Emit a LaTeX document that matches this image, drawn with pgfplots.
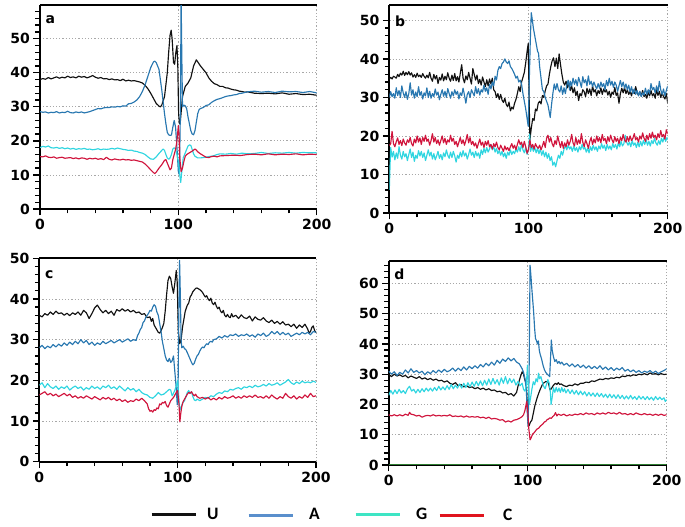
\documentclass[border=0pt]{standalone}
\usepackage{fontspec}
\setmainfont{DejaVu Sans}
\newfontfamily\legfont{Carlito}
\usepackage{pgfplots}
\pgfplotsset{compat=1.18}
\definecolor{cU}{HTML}{111111}
\definecolor{cA}{HTML}{2877B0}
\definecolor{cG}{HTML}{2FD5E0}
\definecolor{cC}{HTML}{D0143C}
\definecolor{lA}{HTML}{5A8FCC}
\definecolor{lG}{HTML}{3EE5C4}
\definecolor{lC}{HTML}{E0141E}
\definecolor{gridc}{HTML}{A8A8A8}
\definecolor{grn}{HTML}{2E7D32}
\pgfplotsset{
  panel/.style={
    scale only axis, xmin=0, xmax=200, ymin=0,
    axis x line*=box, axis y line*=left,
    x axis line style={line width=2.3pt, black},
    y axis line style={line width=2.3pt, black},
    xtick={0,100,200}, minor x tick num=4,
    ytick distance=10, minor y tick num=4,
    tick align=outside, xtick pos=bottom, ytick pos=left,
    major tick length=6.5pt, minor tick length=4.5pt,
    every tick/.style={black, line width=1.3pt},
    grid=major,
    major grid style={gridc, dash pattern=on 1.2pt off 2pt, line width=0.8pt},
    /pgf/number format/assume math mode=true,
    tick label style={font=\bfseries\fontsize{14}{14}\selectfont},
    legend image code/.code={\draw[##1, line width=3pt] (0pt,0pt) -- (44pt,0pt);},
    legend style={draw=none, fill=none, anchor=west, inner sep=0pt,
      font=\legfont\bfseries\fontsize{17.5}{17.5}\selectfont},
  },
  dat/.style={forget plot, line width=1.15pt, mark=none, line join=round},
}
\begin{document}
\begin{tikzpicture}
\path[use as bounding box] (0pt,0pt) rectangle (685pt,527pt);
% ---------------- panel a ----------------
\begin{axis}[panel, at={(40pt,318pt)}, anchor=south west, width=276.7pt, height=204pt, ymax=59.9,
  legend style={at={(0.3975,-1.5)}, column sep=8pt}]
\addlegendimage{cU}\addlegendentry{U}
\addplot[dat, cU] coordinates {(0,38)(2,38.3)(4,38.1)(6,38.6)(8,38.2)(10,38.5)(12,38.8)(14,38.4)(16,38.7)(18,38.5)(20,39)(22,38.6)(24,38.8)(26,38.5)(28,39)(30,38.7)(32,38.9)(34,38.5)(36,38.8)(38,39.2)(40,38.7)(42,38.4)(44,38.6)(46,38.2)(48,38.3)(50,38)(52,38.2)(54,37.9)(56,38)(58,37.7)(60,38.1)(62,37.6)(64,37.8)(66,37.6)(68,37.7)(70,37.5)(72,37.3)(74,37)(76,36.3)(78,35.3)(80,34)(82,32.5)(84,31)(86,30.2)(87,30)(88,30.5)(90,33)(92,40)(93,46)(94,51)(94.8,52.5)(95.5,50)(96.5,43)(97.3,42.5)(98.2,46)(99,48)(99.6,42)(100.2,28)(100.8,25)(101.5,26)(103,33)(105,36)(107,37)(109,38.5)(111,42)(113,43.8)(114,43.2)(116,42)(118,41)(120,40)(122,38.5)(124,37.5)(126,36.8)(128,36.5)(130,36)(132,36)(134,35.6)(136,35.5)(138,35.2)(140,35)(142,34.9)(144,34.6)(146,34.5)(148,34.3)(150,34.4)(155,34)(160,33.9)(165,34)(170,33.8)(175,34.1)(180,33.7)(185,33.9)(190,33.6)(195,33.7)(200,33.4)};
\addplot[dat, cA] coordinates {(0,28.6)(2,28.4)(4,28.5)(6,28.2)(8,28.4)(10,28.3)(12,28.6)(14,28.2)(16,28.4)(18,28.3)(20,28.7)(22,28.3)(24,28.2)(26,28.5)(28,28.3)(30,28.5)(32,28.2)(34,28.4)(36,28.6)(38,28.9)(40,29.2)(42,29.5)(44,29.4)(46,29.7)(48,29.8)(50,29.8)(52,30)(54,29.9)(56,30.1)(58,30)(60,30.3)(62,30.2)(64,30.9)(66,31)(68,31.4)(70,32)(72,33)(74,34.5)(76,36.5)(78,39)(80,41.5)(82,43.2)(83,43.4)(84,43)(86,41)(88,35)(90,28)(91,25)(92,22.5)(93,21.8)(94,21.6)(95,21.7)(96,24)(97,26)(98,24)(99,18)(100,11)(100.8,10)(101.5,30)(102,62)(102.5,45)(103,30)(104,30.5)(105,30.3)(106,29.5)(107,27)(108,25)(109,23)(110,22)(111,21.8)(112,23)(113,25.5)(114,28)(115,29.2)(116,29.5)(118,29.8)(120,30.4)(122,30.6)(124,31.3)(126,31.8)(128,32.2)(130,32.4)(132,32.7)(134,33)(136,33.2)(138,33.3)(140,33.5)(142,33.6)(144,33.9)(146,34)(148,34.2)(150,34.4)(155,34.6)(160,34.3)(165,34.5)(170,34.2)(175,34.6)(180,34.4)(185,34.5)(190,34.2)(195,34.5)(200,34.1)};
\addplot[dat, cG] coordinates {(0,18)(2,18.4)(4,18.2)(6,18.5)(8,18)(10,17.9)(12,18.1)(14,17.8)(16,18)(18,17.7)(20,17.9)(22,17.6)(24,17.8)(26,17.5)(28,17.7)(30,17.6)(32,17.8)(34,17.5)(36,17.6)(38,17.4)(40,17.5)(42,17.7)(44,17.4)(46,17.6)(48,17.5)(50,17.6)(52,17.8)(54,17.6)(56,17.9)(58,17.7)(60,17.5)(62,17.4)(64,17.2)(66,17.3)(68,17)(70,16.9)(72,16.6)(74,16.4)(76,16)(78,15.3)(80,14.7)(82,14.6)(84,15.3)(86,16.3)(88,17.2)(89,17.6)(90,17.2)(91,16)(92,15)(93,14.6)(94,15)(95,16)(96,17.6)(97,18)(98,17.6)(99,16)(100,14)(101,10)(101.7,7.8)(102.5,11)(103.5,15)(105,16.5)(106,17.5)(107,18.5)(108,18.8)(109,18.7)(110,17.5)(111,16.2)(112,15.5)(114,15)(116,15)(118,15.1)(120,15.2)(122,15.4)(124,15.5)(126,15.7)(128,16)(130,16.2)(134,16.1)(138,16.3)(142,16.1)(146,16.4)(150,16.2)(155,16.3)(160,16.6)(165,16.3)(170,16.5)(175,16.4)(180,16.6)(185,16.4)(190,16.6)(195,16.5)(200,16.5)};
\addplot[dat, cC] coordinates {(0,15.4)(2,15.3)(4,15.6)(6,15.2)(8,15.1)(10,15.3)(12,14.9)(14,15.1)(16,15.2)(18,14.9)(20,15)(22,15.1)(24,14.8)(26,15)(28,14.7)(30,15)(32,14.9)(34,14.6)(36,14.9)(38,14.7)(40,14.9)(42,14.6)(44,14.8)(46,14.5)(48,15.2)(50,14.6)(52,14.4)(54,14.7)(56,14.5)(58,14.4)(60,14.6)(62,14.4)(64,14.5)(66,14.3)(68,14.4)(70,14.2)(72,14)(74,13.8)(76,13.2)(78,12.4)(80,11.5)(82,10.7)(83,10.4)(84,10.8)(86,12)(88,13)(90,14.3)(91,14.5)(92,13.5)(93,12.5)(94,11.5)(95,12)(96,14.5)(97,16)(98,17.5)(99,20)(100,24.5)(100.5,22)(101,15)(102,11)(103,12)(104,14)(105,15.5)(106,16)(108,16.5)(110,17)(112,17.6)(113,17.3)(114,16.8)(116,16.2)(118,15.7)(120,15.2)(122,15.1)(124,15.4)(126,15.5)(128,15.3)(130,15.6)(135,15.7)(140,15.8)(145,15.7)(150,16)(155,16.1)(160,15.9)(165,16.2)(170,15.9)(175,16.1)(180,16)(185,16.2)(190,15.9)(195,16.1)(200,16)};
\node[anchor=north west, font=\bfseries\fontsize{14}{14}\selectfont, inner sep=0pt] at (rel axis cs:0.02,0.95) {a};
\end{axis}
% ---------------- panel b ----------------
\begin{axis}[panel, at={(389.3pt,314pt)}, anchor=south west, width=278.4pt, height=208pt, ymax=54,
  legend style={at={(-0.511,-1.452)}, column sep=13pt}]
\addlegendimage{lA}\addlegendentry{A}
\addplot[dat, cU] coordinates {(0,34.8)(1,35.2)(2,34.8)(3,35.5)(4,35.3)(5,35)(6,36)(7,35.4)(8,36.3)(9,35.8)(10,36.8)(11,35.7)(12,36.5)(13,35.9)(14,36.7)(15,35.8)(16,36.4)(17,35.3)(18,35.9)(19,35.2)(20,36.3)(21,35.4)(22,35.8)(23,35.2)(24,36.2)(25,35.5)(26,35)(27,35.8)(28,35.1)(29,36.5)(30,35)(31,34.2)(32,36)(33,34.8)(34,35.7)(35,33.6)(36,35.2)(37,34.5)(38,36.1)(39,34.3)(40,35.5)(41,34.6)(42,36.4)(43,35)(44,34.2)(45,35.8)(46,34.4)(47,36.2)(48,34.3)(49,35.4)(50,34)(51,36.3)(52,38.5)(53,35)(54,33.8)(55,35.6)(56,34.6)(57,36.5)(58,35)(59,33.5)(60,37.5)(61,36)(62,34.5)(63,35.8)(64,33.6)(65,34.7)(66,33.2)(67,35.3)(68,34)(69,32.8)(70,34.6)(71,33)(72,34.8)(73,33.5)(74,35)(75,32)(76,31.5)(77,30)(78,31)(79,29.5)(80,30.8)(81,29.3)(82,28.7)(83,29.8)(84,28.2)(85,27.6)(86,28.8)(87,26.5)(88,27.5)(89,27)(90,28.5)(91,29.5)(92,31)(93,32.8)(94,31.5)(95,34)(96,35.2)(97,36.5)(98,39)(99,42)(99.8,44)(100.3,33)(101,19)(102,22)(103,24.5)(104,24)(105,27)(106,26.5)(107,28.5)(108,29)(109,28.3)(110,30.5)(111,30)(112,31.7)(113,33)(114,33.5)(115,36)(116,38)(117,39.5)(118,40.3)(119,38)(120,40.2)(121,37.5)(122,41.3)(123,38.5)(124,36)(125,34)(126,33.2)(127,34.2)(128,32.5)(129,33.8)(130,31.8)(131,33)(132,31.2)(133,32.5)(134,30.5)(135,31.6)(136,29.2)(137,31)(138,30.4)(139,32)(140,31.5)(141,30.2)(142,32.4)(143,31)(144,32.2)(145,30.5)(146,33)(147,31.4)(148,32)(149,30.4)(150,31.8)(151,31)(152,32.5)(153,30.8)(154,32.2)(155,31.4)(156,32)(157,30.6)(158,31.6)(159,30)(160,31.4)(161,30.8)(162,32.6)(163,30.5)(164,31.2)(165,28.5)(166,31)(167,32.4)(168,31.2)(169,32.6)(170,31)(171,32)(172,30.8)(173,31.6)(174,30.4)(175,32)(176,31)(177,32.8)(178,31.2)(179,30.6)(180,31.4)(181,30.4)(182,31.8)(183,30.2)(184,30.8)(185,29.8)(186,31.4)(187,30.4)(188,31.8)(189,30.4)(190,31)(191,29.8)(192,32)(193,30.5)(194,31.6)(195,30)(196,31.2)(197,30.2)(198,29.6)(199,31)(200,28.5)};
\addplot[dat, cA] coordinates {(0,30)(1,31.5)(2,30.2)(3,31)(4,29.8)(5,32.5)(6,30.5)(7,31.8)(8,30)(9,33)(10,31.2)(11,30)(12,31.5)(13,29.5)(14,31)(15,33.8)(16,30.6)(17,32)(18,29.8)(19,31.4)(20,30.2)(21,32.8)(22,30.5)(23,31.5)(24,29.6)(25,31.2)(26,30.4)(27,32.5)(28,30)(29,31.6)(30,29.8)(31,31)(32,30.2)(33,32.2)(34,30.6)(35,31.4)(36,29.4)(37,30.8)(38,32)(39,30.3)(40,31.6)(41,30)(42,32.3)(43,31)(44,29.8)(45,31.5)(46,30.4)(47,32)(48,30.8)(49,31.6)(50,29.6)(51,31.2)(52,30.5)(53,32.4)(54,30.6)(55,28.5)(56,30.8)(57,31.5)(58,30)(59,32)(60,31.2)(61,30.4)(62,32.8)(63,31)(64,32.3)(65,30.6)(66,32)(67,31.4)(68,33.2)(69,31.6)(70,32.5)(71,30.8)(72,33.4)(73,32.2)(74,34)(75,33)(76,35.5)(77,34.5)(78,37)(79,38)(80,37.5)(81,38.8)(82,39.2)(83,40)(84,39.2)(85,38.8)(86,39.5)(87,38)(88,37.5)(89,36.8)(90,36)(91,35)(92,35.5)(93,34)(94,34.5)(95,33.5)(96,31)(97,29)(98,27)(99,24.5)(99.8,22.5)(100.6,35)(101.3,45)(102,52)(102.8,50)(103.5,48)(104.5,46)(105.5,44)(106.5,42)(107.2,41.5)(108,38)(109,35)(110,32)(111,31.5)(112,30)(113,29)(114,28)(115,26)(115.6,24.8)(116.5,28)(117.5,31)(118.5,33.5)(119.5,32)(120.5,33.6)(121.5,32)(122.5,31.4)(123.5,33)(124.5,30.8)(125.5,32.5)(126.5,31)(127.5,33.2)(128.5,34.5)(129.5,32)(130,34.2)(131,33)(132,35)(133,33.4)(134,34.6)(135,33)(136,35.2)(137,34)(138,32.6)(139,35.4)(140,33.8)(141,34.6)(142,33)(143,35.6)(144,33.4)(145,34.2)(146,32.8)(147,34)(148,33)(149,32.2)(150,33.6)(151,32.4)(152,34)(153,32.8)(154,33.6)(155,32)(156,34.4)(157,33)(158,35)(159,33.2)(160,34.2)(161,32.6)(162,34)(163,33.2)(164,31.6)(165,33)(166,34.4)(167,32.8)(168,34)(169,32.4)(170,33.5)(171,32)(172,33.2)(173,31.4)(174,32.8)(175,31)(176,32.2)(177,30.8)(178,31.8)(179,30.4)(180,31.6)(181,30.2)(182,31.2)(183,30.6)(184,32.4)(185,30.8)(186,32)(187,31)(188,33.6)(189,32)(190,32.6)(191,31.2)(192,33)(193,31.4)(194,34.2)(195,32)(196,30.8)(197,32.2)(198,30.4)(199,31.8)(200,33)};
\addplot[dat, cG] coordinates {(0,6)(0.6,13)(1,17)(2,14.5)(3,16)(4,13.8)(5,15.6)(6,14.2)(7,17.2)(8,15)(9,14)(10,16)(11,14.6)(12,15.4)(13,13.6)(14,15.2)(15,16.6)(16,14.4)(17,15.8)(18,13.4)(19,15)(20,14.2)(21,16.2)(22,14.8)(23,16)(24,14.4)(25,15.6)(26,13.6)(27,15)(28,16.4)(29,14.8)(30,15.8)(31,14)(32,15.4)(33,13.8)(34,14.8)(35,16)(36,14.2)(37,15.2)(38,13.8)(39,15.6)(40,14.6)(41,16.4)(42,15)(43,14.2)(44,15.8)(45,14.4)(46,16)(47,14.8)(48,13.2)(49,15)(50,14.2)(51,15.8)(52,14.6)(53,16.2)(54,14.8)(55,15.6)(56,14)(57,15.2)(58,16.6)(59,15)(60,15.8)(61,14.4)(62,16)(63,14.8)(64,15.6)(65,14.2)(66,16.4)(67,15.2)(68,16.8)(69,15.6)(70,17)(71,15.8)(72,16.6)(73,17.8)(74,16.4)(75,17.2)(76,15.8)(77,16.8)(78,15.4)(79,16.2)(80,15)(81,16)(82,14.6)(83,15.6)(84,14.2)(85,15.8)(86,15)(87,16.4)(88,15.2)(89,16)(90,15.4)(91,16.6)(92,15.8)(93,17.2)(94,16)(95,17.8)(96,16.4)(97,15.6)(98,17)(99,15.2)(100,16.5)(100.8,20.5)(101.5,16)(102.5,17.4)(103.5,16)(104.5,17)(105.5,15.6)(106.5,16.8)(107.5,15.4)(108.5,16.6)(109.5,15)(110.5,16.2)(111.5,14.6)(112.5,15.8)(113.5,14.2)(114.5,15.4)(115.5,13.6)(116.5,14.6)(117.5,12.4)(118.5,13.2)(119.5,12)(120.5,13.6)(121.5,15)(122.5,14.2)(123.5,16)(124.5,15)(125.5,16.6)(126.5,17.4)(127.5,16.4)(128.5,17.6)(129.5,16.6)(130.5,17.2)(131.5,16)(132.5,17.4)(133.5,16.2)(134.5,17)(135.5,15.8)(136.5,17.2)(137.5,16.4)(138.5,17.8)(139.5,16.6)(140.5,17)(141.5,15.8)(142.5,16.8)(143.5,15.6)(144.5,17.2)(145.5,16.2)(146.5,17.6)(147.5,16.4)(148.5,17.2)(149.5,16)(150.5,17.4)(151.5,16.6)(152.5,18)(153.5,16.8)(154.5,17.6)(155.5,16.2)(156.5,17.8)(157.5,16.6)(158.5,17.4)(159.5,16.4)(160.5,18)(161.5,17)(162.5,17.8)(163.5,16.6)(164.5,18.2)(165.5,17.2)(166.5,18.6)(167.5,17.4)(168.5,18)(169.5,20.2)(170.5,18.4)(171.5,17.6)(172.5,18.4)(173.5,17.2)(174.5,18.8)(175.5,17.6)(176.5,18.2)(177.5,17)(178.5,18.4)(179.5,17.2)(180.5,18.6)(181.5,17.4)(182.5,18.8)(183.5,17.8)(184.5,19)(185.5,17.6)(186.5,18.6)(187.5,17.4)(188.5,18.8)(189.5,18)(190.5,19.4)(191.5,18.2)(192.5,17.6)(193.5,18.8)(194.5,17.8)(195.5,19.4)(196.5,18.4)(197.5,19.8)(198.5,18.6)(199.5,19.6)(200,19)};
\addplot[dat, cC] coordinates {(0,17.5)(1,18)(2,21.2)(3,18)(4,17.2)(5,18.5)(6,19.5)(7,17.8)(8,18.8)(9,17.5)(10,19.2)(11,18.2)(12,17.6)(13,19)(14,18.3)(15,19.6)(16,18)(17,17.4)(18,19.2)(19,18.2)(20,20)(21,18.4)(22,19.5)(23,17.8)(24,19.6)(25,18.6)(26,20.2)(27,18.6)(28,19.2)(29,17.6)(30,18.8)(31,20.6)(32,18.4)(33,19.6)(34,18)(35,19)(36,17.6)(37,18.8)(38,20)(39,18.2)(40,19.4)(41,17.8)(42,19)(43,18.4)(44,20.2)(45,18.6)(46,19.4)(47,17.8)(48,18.6)(49,17.2)(50,18.4)(51,19.6)(52,18)(53,19)(54,17.6)(55,18.8)(56,20.4)(57,18.2)(58,19.6)(59,17.8)(60,18.6)(61,17.4)(62,18.2)(63,16.8)(64,18)(65,19.2)(66,17.6)(67,18.4)(68,17)(69,18.6)(70,17.6)(71,18.8)(72,17.2)(73,17.8)(74,16.6)(75,18)(76,17.2)(77,18.4)(78,17)(79,16.4)(80,17.6)(81,16.8)(82,16)(83,17.4)(84,16.4)(85,17)(86,16.2)(87,17.2)(88,18)(89,16.8)(90,17.6)(91,16.4)(92,17.8)(93,19)(94,17.8)(95,18.4)(96,17)(97,18.6)(98,17.2)(99,15.5)(100,16.5)(101,19)(102,17)(103,17.8)(104,16.6)(105,18)(106,17.2)(107,16.8)(108,17.6)(109,16.4)(110,17.4)(111,18.6)(112,17)(113,19.4)(114,20.2)(115,18.4)(116,19.6)(117,18)(118,17.2)(119,18.8)(120,17.8)(121,20)(122,18.4)(123,17)(124,18.6)(125,16.8)(126,18.2)(127,17.2)(128,19)(129,17.6)(130,18.6)(131,20.4)(132,18.2)(133,17.4)(134,19.6)(135,17.8)(136,19)(137,18)(138,20.6)(139,18.4)(140,17.2)(141,19)(142,18)(143,16.8)(144,18.6)(145,19.6)(146,17.8)(147,19.2)(148,18.2)(149,20)(150,18.6)(151,19.6)(152,18.2)(153,20.4)(154,18.8)(155,19.4)(156,18)(157,19.8)(158,18.6)(159,20.2)(160,19)(161,18.2)(162,19.8)(163,18.6)(164,19.4)(165,18)(166,19.6)(167,18.8)(168,20.4)(169,19)(170,18.4)(171,19.8)(172,18.6)(173,20)(174,18.8)(175,19.4)(176,20.6)(177,19)(178,19.6)(179,18.4)(180,20)(181,19.2)(182,20.8)(183,19.4)(184,18.6)(185,20.2)(186,19)(187,20.6)(188,19.4)(189,21)(190,19.6)(191,20.2)(192,19)(193,20.6)(194,19.6)(195,21.4)(196,19.8)(197,20.4)(198,19.2)(199,21.6)(200,20.5)};
\node[anchor=north west, font=\bfseries\fontsize{14}{14}\selectfont, inner sep=0pt] at (rel axis cs:0.02,0.95) {b};
\end{axis}
% ---------------- panel c ----------------
\begin{axis}[panel, at={(39.3pt,65.3pt)}, anchor=south west, width=276.7pt, height=203.4pt, ymax=50,
  legend style={at={(1.137,-0.262)}, column sep=13pt}]
\addlegendimage{lG}\addlegendentry{G}
\addplot[dat, cU] coordinates {(0,36)(2,35.6)(4,36.4)(6,36)(8,36.8)(10,36.2)(12,37)(14,36.4)(16,36.6)(18,36)(20,36.5)(22,35.9)(24,36.6)(26,36.2)(28,36.8)(30,36)(32,37.2)(34,36.6)(36,35.2)(38,36.4)(40,37.8)(42,38.5)(44,37.4)(46,36.6)(48,37.2)(50,36.4)(52,37)(54,36)(56,37.4)(58,37)(60,37.6)(62,37)(64,37.4)(66,36.8)(68,37.2)(70,36.6)(72,36.8)(74,36.2)(76,36.4)(78,35.4)(80,35.6)(81,34.5)(82,35.2)(83,33.6)(84,33)(85,32.4)(86,31.8)(87,31.6)(88,32.2)(89,33)(90,34)(91,37)(92,41)(93,44.5)(94,45.6)(95,45)(96,43)(97,41.4)(98,44)(99,47)(99.7,44)(100.5,32)(101.5,29)(102.5,30)(103.5,33)(104.5,35)(105.5,37)(107,38.5)(108,39)(109,40.5)(110,41)(111,41.8)(112,42.2)(113,42.6)(114,42.7)(115,42.5)(116,42.3)(117,42)(118,41.6)(119,41)(120,40.5)(121,40.8)(122,40)(123,39.6)(124,40.2)(125,39)(126,38.6)(127,39.2)(128,38.2)(129,37.6)(130,38)(131,37)(132,36.6)(133,37.2)(134,36)(135,35.6)(136,36.2)(137,35.6)(138,35.4)(139,36.4)(140,35.6)(142,36)(144,35.2)(146,36.1)(148,35.4)(150,35.2)(152,35.8)(154,34.6)(156,35.6)(158,35)(160,34.8)(162,35.4)(164,34.6)(166,34.2)(168,34.8)(170,34)(172,34.5)(174,33.8)(176,34.4)(178,33.6)(180,33.8)(182,33.2)(184,33.8)(186,32.8)(188,33.6)(190,33)(192,33.8)(194,32.6)(195,31.6)(196,32)(197,33)(198,33.4)(199,32.2)(200,31.8)};
\addplot[dat, cA] coordinates {(0,28)(2,28.6)(4,27.8)(6,28.4)(8,28)(10,28.8)(12,28.2)(14,28.9)(16,28.4)(18,29.2)(20,28.6)(22,29.4)(24,28.8)(26,29.6)(28,29)(30,30)(32,29.2)(34,29.8)(36,28.8)(38,29.4)(40,28.6)(42,29.2)(44,28.8)(46,29.6)(48,29)(50,29.4)(52,29.8)(54,29.2)(56,29.6)(58,30)(60,29.4)(62,29.8)(64,30.2)(66,29.6)(68,30)(70,29.8)(71,31)(72,31.6)(73,32.5)(74,33)(75,34.2)(76,34.6)(77,35.5)(78,36)(79,36.5)(80,37.2)(81,37)(82,38)(83,38.6)(84,38.2)(85,36.8)(86,36)(87,34)(88,32)(89,29.5)(90,27.8)(91,26)(92,25)(93,24.6)(94,25.4)(95,24.4)(96,24.8)(97,26)(98,22)(99,18)(99.7,14)(100.3,18)(100.8,35)(101.4,49.5)(102,40)(102.5,30)(103,28)(104,28.4)(105,27.8)(106,27.5)(107,26.8)(108,26)(109,25.2)(110,24.4)(111,23.8)(112,24.2)(113,25.2)(114,26)(115,26.4)(116,27.2)(117,27.8)(118,28.2)(119,28)(120,28.6)(121,29)(122,28.8)(123,29.4)(124,29.6)(125,29.4)(126,30)(128,30.2)(130,30.8)(132,30.4)(134,31)(136,30.6)(138,31.2)(140,31)(142,31.4)(144,30.8)(146,31.2)(148,31)(150,31.4)(152,30.8)(154,31.2)(156,30.6)(158,31.4)(160,31)(162,31.6)(164,30.8)(166,31.2)(168,32)(170,31.4)(172,32)(174,31.2)(176,31.8)(178,31.2)(180,31.6)(182,30.8)(184,31.2)(186,31.6)(188,31.2)(190,31.8)(192,31.4)(194,31.8)(196,31.2)(198,32)(200,31.8)};
\addplot[dat, cG] coordinates {(0,18.8)(2,19.4)(4,18.2)(6,19.2)(8,18.4)(10,18)(12,18.6)(14,17.8)(16,18.4)(18,18)(20,18.6)(22,17.6)(24,18.2)(26,18.6)(28,18)(30,18.4)(32,17.6)(34,18.2)(36,17.8)(38,18.6)(40,18)(42,18.4)(44,17.8)(46,18.6)(48,18.2)(50,18.8)(52,18)(54,18.4)(56,17.8)(58,18.6)(60,18)(62,17.4)(64,18.2)(66,17.6)(68,18)(70,17.2)(72,17.8)(74,17)(76,16.6)(78,16.4)(80,15.8)(82,15.6)(84,16.2)(86,17)(88,16.4)(90,16.6)(92,17.2)(94,17.8)(95,17.6)(96,16.2)(97,16.8)(98,17.6)(99,18.6)(100,20)(100.8,16)(101.5,12.6)(102.5,13.4)(103.5,14.4)(105,15)(106,16)(107,17)(108,17.5)(109,16.8)(110,17.2)(111,16)(112,15.2)(113,15)(114,15.4)(116,15)(118,15.4)(120,15.8)(122,15.6)(124,16.2)(126,16)(128,16.6)(130,17)(132,16.8)(134,17.4)(136,17.2)(138,17.8)(140,17.6)(142,18)(144,18.2)(146,17.8)(148,18.4)(150,18.2)(152,18.6)(154,18.2)(156,18.8)(158,18.4)(160,18.6)(162,19)(164,18.6)(166,19.2)(168,18.8)(170,19)(172,19.4)(174,18.8)(176,19.2)(178,19.6)(180,20.2)(182,19.4)(184,19)(186,19.6)(188,19.2)(190,19.8)(192,19.4)(194,19.6)(196,19.4)(198,19.8)(200,19.5)};
\addplot[dat, cC] coordinates {(0,16.4)(2,16.8)(4,17.2)(6,16.4)(8,16.8)(10,16.2)(12,16.6)(14,16)(16,16.4)(18,16.8)(20,16.2)(22,16.6)(24,15.8)(26,16.2)(28,15.6)(30,16)(32,15.6)(34,16.2)(36,15.8)(38,15.4)(40,16)(42,15.6)(44,15.2)(46,15.8)(48,15.4)(50,15.8)(52,15.2)(54,15.6)(56,15)(58,15.4)(60,14.8)(62,15.2)(64,14.6)(66,15)(68,14.8)(70,15.4)(72,15)(74,15.6)(76,15)(78,14.2)(79,13)(80,12.4)(81,12.6)(82,12.2)(83,12.8)(84,12.6)(85,13.2)(86,13)(87,14.2)(88,14)(89,14.6)(90,14.4)(91,14.8)(92,13.8)(93,13.4)(94,14.2)(95,15)(96,15.4)(97,15.8)(98,16.4)(99,17)(100,17.5)(101,14)(101.6,9.8)(102.3,12)(103,13.6)(104,14.8)(105,15.4)(106,16)(107,16.6)(108,17)(109,16.8)(110,17.2)(111,16.6)(112,16.2)(113,16.6)(114,16)(116,15.6)(118,15.8)(120,15.4)(122,15.8)(124,15.2)(126,15.6)(128,15.2)(130,15.8)(132,15.4)(134,16)(136,15.6)(138,15.8)(140,16.2)(142,15.6)(144,16)(146,15.6)(148,16.2)(150,15.8)(152,16.2)(154,15.8)(156,16.4)(158,15.8)(160,16)(162,15.6)(164,16.2)(166,15.6)(168,16.4)(170,15.8)(172,15.4)(174,16)(176,15.6)(178,16.8)(180,16)(182,15.6)(184,16.2)(186,15.4)(188,16)(190,15.6)(192,16.4)(194,15.8)(196,16.8)(198,16)(200,16.2)};
\node[anchor=north west, font=\bfseries\fontsize{14}{14}\selectfont, inner sep=0pt] at (rel axis cs:0.02,0.94) {c};
\end{axis}
% ---------------- panel d ----------------
\begin{axis}[panel, at={(388.7pt,62pt)}, anchor=south west, width=278pt, height=204.3pt, ymax=67.5,
  legend style={at={(0.177,-0.245)}, column sep=16pt}]
\addlegendimage{lC}\addlegendentry{C}
\addplot[dat, cU] coordinates {(0,30)(2,29.2)(4,30)(6,29.4)(8,29.8)(10,29.2)(12,29.6)(14,28.8)(16,29.4)(18,29)(20,28.6)(22,29.2)(24,28.4)(26,28.8)(28,28.2)(30,28.6)(32,28)(34,28.4)(36,27.8)(38,28)(40,27.4)(42,27.8)(44,27)(46,26.6)(48,27.2)(50,26.2)(52,26.6)(54,25.8)(56,26.2)(58,25.6)(60,25.8)(62,25.2)(64,25.6)(66,25)(68,25.4)(70,24.8)(72,25.2)(74,24.6)(76,24.8)(78,24.2)(80,24.4)(82,23.8)(84,24)(86,23.2)(88,23.6)(90,22.8)(91,23.4)(92,24)(93,26)(94,28)(95,29.5)(96,30.8)(97,30)(98,28)(99,27)(99.6,20)(100.4,13.7)(101,13)(102,14.2)(103,14.8)(104,17)(105,19.3)(106,21)(107,22.5)(108,23.8)(109,25)(110,26)(111,27)(112,27.2)(113,27.6)(114,27.5)(115,27)(116,24.8)(117,25.2)(118,26)(119,26.6)(120,27)(121,26.6)(122,27.2)(123,26.6)(124,26.8)(126,26.2)(128,25.9)(130,26.4)(132,26.2)(134,26.8)(136,26.4)(138,27)(140,27)(142,27.4)(144,27.2)(146,27.8)(148,27.6)(150,28)(152,28.4)(154,28.2)(156,28.6)(158,28.4)(160,28.8)(162,28.6)(164,29)(166,28.8)(168,29.4)(170,29.2)(172,29.6)(174,29.4)(176,29.8)(178,29.6)(180,30)(182,29.8)(184,30.2)(186,29.8)(188,30.4)(190,30)(192,30.2)(194,29.8)(196,30.2)(198,29.9)(200,30)};
\addplot[dat, cA] coordinates {(0,31)(2,30)(4,30.8)(6,29.6)(8,30.6)(10,30)(12,31.4)(14,30.4)(16,31.8)(18,30.6)(20,31.2)(22,30.4)(24,31)(26,29.8)(28,30.8)(30,30.2)(32,31.2)(34,30.4)(36,31.4)(38,30.6)(40,31.6)(42,30.8)(44,31.2)(46,32)(48,31)(50,32)(52,31.2)(54,32.4)(56,31.4)(58,32.6)(60,31.8)(62,32.8)(64,32)(66,33.2)(68,32.4)(70,33.6)(72,32.8)(74,34)(76,33)(78,34.6)(80,33.6)(82,35)(84,34.2)(86,35.4)(88,34.4)(90,35.2)(92,34)(94,33.4)(96,31.8)(97,30.6)(98,28.6)(99,25)(99.6,18)(100.3,13)(101,30)(101.7,66)(102.4,62)(103,58)(103.6,54.5)(104.2,51)(105,45)(105.6,41.8)(106.4,41)(107,40)(107.7,41)(108.3,38)(109,36.5)(110,35)(111,33)(112,31.5)(113,30.6)(114,30)(115,29.6)(115.8,29.2)(116.5,36)(117,41.3)(117.6,38)(118.5,35.8)(119.5,34.2)(120.5,34.8)(121.5,33.6)(122.5,34.2)(123.5,33.4)(124.5,34)(126,33)(128,33.6)(130,32.6)(132,33.4)(134,32.4)(136,33.2)(138,32.2)(140,33)(142,32)(144,32.8)(146,31.8)(148,32.6)(150,31.8)(152,32.8)(154,31.6)(156,32.4)(158,31.4)(160,32.2)(162,31.2)(164,32)(166,31.4)(168,32.2)(170,31)(172,31.6)(174,30.8)(176,31.4)(178,30.6)(180,31.2)(182,30.4)(184,31)(186,30.6)(188,31.2)(190,30.4)(192,31)(194,30.2)(196,30.8)(198,31.2)(200,31.8)};
\addplot[dat, cG] coordinates {(0,23)(1.5,24.6)(3,23.4)(4.5,24.8)(6,23.6)(7.5,25)(9,23.8)(10.5,24.6)(12,23.6)(13.5,25.2)(15,26)(16.5,24.4)(18,25)(19.5,23.8)(21,25)(22.5,24)(24,25.2)(25.5,24.2)(27,25.4)(28.5,24.4)(30,25.4)(31.5,24.4)(33,25.6)(34.5,24.6)(36,26)(37.5,24.8)(39,25.8)(40.5,24.8)(42,26.2)(43.5,25)(45,26.6)(46.5,25.2)(48,26.4)(49.5,25.4)(51,26.8)(52.5,25.4)(54,27)(55.5,25.6)(57,27.2)(58.5,25.8)(60,27.4)(61.5,26)(63,27.6)(64.5,26.2)(66,27.8)(67.5,26.2)(69,28)(70.5,26.4)(72,28.4)(73.5,26.6)(75,28.6)(76.5,26.8)(78,28.2)(79.5,26.4)(81,28.8)(82.5,27)(84,29.2)(85.5,26.8)(87,28.6)(88.5,27.2)(90,28.4)(91.5,26.4)(93,27.6)(94.5,26.2)(96,27)(97,25)(98,24.4)(99,26)(99.8,33)(100.5,26)(101.2,20)(102,22)(103,25)(104,27.5)(105,26.5)(106,28.5)(107,27.5)(107.8,30.3)(108.5,28.5)(109.5,29.2)(110.5,27.4)(111.5,26)(112.5,25.2)(113.5,26.6)(114.5,28.2)(115.5,27)(116.3,24)(116.8,20)(117.5,22)(118.5,25.5)(119.5,24)(120.5,25.6)(121.5,24.2)(122.5,25.4)(123.5,24)(124.5,25.6)(125.5,24.2)(126.5,25.2)(127.5,23.8)(129,25)(130.5,23.6)(132,24.8)(133.5,23.4)(135,24.6)(136.5,23.2)(138,24.4)(139.5,23.2)(141,24.2)(142.5,22.8)(144,24)(145.5,22.8)(147,23.8)(148.5,22.6)(150,23.8)(151.5,22.6)(153,23.6)(154.5,22.4)(156,23.4)(157.5,22.2)(159,23.4)(160.5,22.2)(162,23.2)(163.5,22)(165,23.2)(166.5,22)(168,23)(169.5,21.8)(171,22.8)(172.5,21.8)(174,23)(175.5,21.8)(177,22.6)(178.5,21.6)(180,22.8)(181.5,21.8)(183,22.6)(184.5,21.6)(186,22.6)(187.5,21.6)(189,22.4)(190.5,21.4)(192,22.6)(193.5,21.6)(195,22.4)(196.5,21.6)(198,22.2)(199,21)(200,21.6)};
\addplot[dat, cC] coordinates {(0,16.6)(2,16.2)(4,16.6)(6,16.2)(8,16.6)(10,16.2)(12,16.8)(14,16.4)(15,17.4)(16,16.8)(18,16.6)(20,16.2)(22,16.4)(24,15.8)(26,16.2)(28,16.4)(30,16.2)(32,16.6)(34,16.2)(36,16.4)(38,16.2)(40,16.4)(42,16.2)(44,16.6)(46,16)(48,16.2)(50,16)(52,16.2)(54,15.8)(56,16.2)(58,15.8)(60,16)(62,15.8)(64,16)(66,15.6)(68,15.8)(70,15.4)(72,15.8)(74,15.2)(76,15.4)(78,15.2)(80,14.8)(82,15)(84,14.2)(86,14.6)(88,14.2)(90,14.8)(92,15)(94,15.4)(96,16)(97,16.6)(98,18)(99.3,21)(100,18)(100.8,12)(101.7,8.3)(102.5,9)(103.5,10.2)(104.5,10.6)(105.5,11.2)(106.5,11.8)(108,12.2)(109,12.8)(110,13.2)(111,13.6)(112,14.2)(113,14.4)(114,15)(115,15.2)(116,15.6)(117,15.4)(118,16)(119,16.4)(120,17.3)(121,16.2)(122,16.8)(124,16.4)(126,16.8)(128,16.2)(130,16.6)(132,16.4)(134,16.8)(136,16.6)(138,17)(140,16.6)(142,17.2)(144,16.8)(146,17)(148,16.6)(150,17.2)(152,16.8)(154,17.2)(156,16.8)(158,17.4)(160,17)(162,17.2)(164,16.8)(166,17.4)(168,16.8)(170,17)(172,16.6)(174,17)(176,16.6)(178,17.2)(180,16.8)(182,16.6)(184,17)(186,16.6)(188,16.8)(190,16.4)(192,16.8)(194,16.4)(196,16.8)(198,16.4)(200,16.6)};
\addplot[dat, grn, line width=2pt] coordinates {(0,0)(200,0)};
\node[anchor=north west, font=\bfseries\fontsize{14}{14}\selectfont, inner sep=0pt] at (rel axis cs:0.02,0.96) {d};
\end{axis}
\end{tikzpicture}
\end{document}
